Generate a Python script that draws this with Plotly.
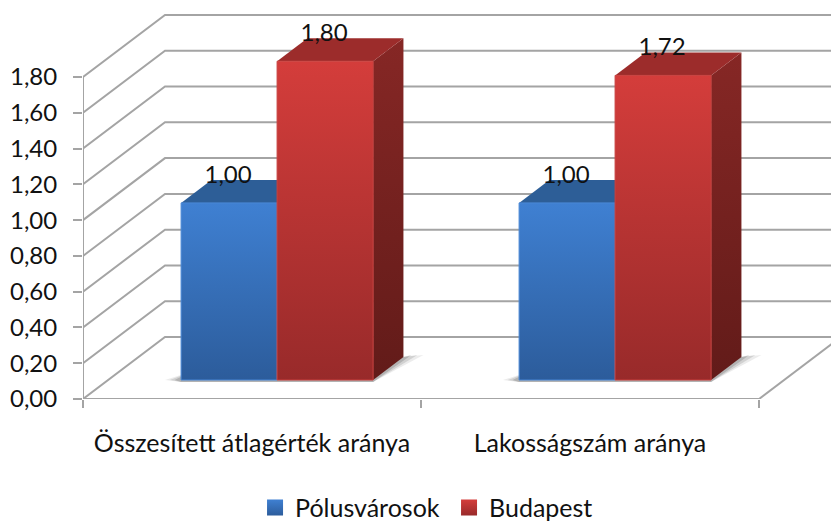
import plotly.graph_objects as go

categories = ["Összesített átlagérték aránya", "Lakosságszám aránya"]
series_names = ["Pólusvárosok", "Budapest"]
polus_values = [1.00, 1.00]
budapest_values = [1.80, 1.72]
value_labels = [["1,00", "1,00"], ["1,80", "1,72"]]
tick_values = [0, 0.2, 0.4, 0.6, 0.8, 1.0, 1.2, 1.4, 1.6, 1.8]
tick_labels = ["0,00", "0,20", "0,40", "0,60", "0,80", "1,00", "1,20", "1,40", "1,60", "1,80"]

# pseudo-3D projection, category units / value units
PX_X, PX_Y = 338.0, 178.9
DEPTH_X, DEPTH_Y = 82 / PX_X, 62 / PX_Y
FRONT, BACK = 0.306, 0.676
BAR_W = 96 / PX_X
HEIGHT_K = 0.99
FONT = "Lato, Carlito, sans-serif"
FS = 24
FS_CAT = 25
GRID = "#a4a4a4"
XMAX = (831 - 83) / PX_X


def proj(x, v, d):
    return x + d * DEPTH_X, v + d * DEPTH_Y


def poly(pts, name, fill=None, grad=None, line=None, gtype="vertical"):
    xs = [p[0] for p in pts] + [pts[0][0]]
    ys = [p[1] for p in pts] + [pts[0][1]]
    kw = dict(x=xs, y=ys, mode="lines", fill="toself", showlegend=False, hoverinfo="skip",
              name=name, cliponaxis=False,
              line=dict(width=1 if line else 0, color=line or "rgba(0,0,0,0)"))
    if grad:
        # colorscale runs from the bottom of the shape to its top
        kw["fillgradient"] = dict(type=gtype, colorscale=[[0, grad[1]], [1, grad[0]]])
    else:
        kw["fillcolor"] = fill
    return go.Scatter(**kw)


def seg(pts, width=2, color=GRID):
    return go.Scatter(x=[p[0] for p in pts], y=[p[1] for p in pts], mode="lines", showlegend=False,
                      hoverinfo="skip", cliponaxis=False, line=dict(color=color, width=width))


fig = go.Figure()

# walls and floor
for v in tick_values:
    fig.add_trace(seg([proj(0, v, 0), proj(0, v, 1), (XMAX, v + DEPTH_Y)]))
fig.add_trace(seg([proj(0, 1.8, 0), proj(0, 0, 0), proj(2, 0, 0)]))
fig.add_trace(seg([proj(2, 0, 0), proj(2, 0, 1)]))

palettes = [
    dict(front=("#3f80d2", "#2c5c9b"), top="#2d5e97", side=("#2b5a94", "#234a7a"), edge="#4a88d6"),
    dict(front=("#d43d3b", "#982a2a"), top="#9c2c2b", side=("#862725", "#621b19"), edge="#c9403e"),
]

# soft shadows on the floor
for i in range(len(categories)):
    cx = i + 0.5
    xl = cx - BAR_W
    xr = cx + BAR_W
    for grow, alpha in [(1.0, 0.10), (0.7, 0.16), (0.4, 0.22)]:
        a = proj(xl - grow * 16 / PX_X, 0, FRONT)
        b = proj(xl, 0, FRONT + 0.14)
        c = proj(xr, 0, BACK)
        d = (proj(xr, 0, BACK)[0] + grow * 20 / PX_X, proj(xr, 0, BACK)[1] + 2 / PX_Y)
        e = proj(xr, -2 / PX_Y, FRONT)
        f = proj(xl, -2 / PX_Y, FRONT)
        fig.add_trace(poly([a, b, c, d, e, f], "shadow", fill=f"rgba(70,70,70,{alpha})"))

# bars
for s, values in enumerate([polus_values, budapest_values]):
    pal = palettes[s]
    for i, val in enumerate(values):
        cx = i + 0.5
        x0 = cx - BAR_W + s * BAR_W
        x1 = x0 + BAR_W
        h = val * HEIGHT_K
        fig.add_trace(poly([proj(x1, 0, FRONT), proj(x1, 0, BACK), proj(x1, h, BACK), proj(x1, h, FRONT)],
                           series_names[s] + " side", grad=pal["side"]))
        fig.add_trace(poly([proj(x0, h, FRONT), proj(x1, h, FRONT), proj(x1, h, BACK), proj(x0, h, BACK)],
                           series_names[s] + " top", fill=pal["top"]))
        fig.add_trace(poly([proj(x0, 0, FRONT), proj(x1, 0, FRONT), proj(x1, h, FRONT), proj(x0, h, FRONT)],
                           series_names[s], grad=pal["front"], line=pal["edge"]))

# value labels
for s, values in enumerate([polus_values, budapest_values]):
    for i, val in enumerate(values):
        cx = i + 0.5
        x = cx - BAR_W + s * BAR_W + BAR_W / 2 - 1 / PX_X
        y = val * HEIGHT_K + 26 / PX_Y
        lx, ly = proj(x, y, FRONT)
        fig.add_trace(go.Scatter(x=[lx], y=[ly], mode="text", text=[value_labels[s][i]], showlegend=False,
                                 hoverinfo="skip", cliponaxis=False, textposition="middle center",
                                 textfont=dict(family=FONT, size=FS, color="#111111")))

# legend entries
for s, name in enumerate(series_names):
    fig.add_trace(go.Scatter(x=[None], y=[None], mode="markers", name=name,
                             marker=dict(symbol="square", size=17, color=palettes[s]["front"][0],
                                         gradient=dict(type="vertical", color=palettes[s]["front"][1]),
                                         line=dict(width=0))))

fig.update_layout(
    width=831, height=525,
    margin=dict(l=83, r=0, t=0, b=126, autoexpand=False),
    paper_bgcolor="white", plot_bgcolor="white",
    font=dict(family=FONT, size=FS, color="#111111"),
    showlegend=True,
    legend=dict(orientation="h", x=0.23, xref="paper", xanchor="left", y=-0.215, yanchor="top",
                entrywidth=149, entrywidthmode="pixels",
                font=dict(family=FONT, size=FS_CAT), itemclick=False, itemdoubleclick=False,
                bgcolor="rgba(0,0,0,0)"),
    xaxis=dict(range=[0, XMAX], showgrid=False, zeroline=False, showline=False,
               tickmode="array", tickvals=[0.5, 1.5], ticktext=categories, ticks="",
               ticklabelstandoff=27, tickfont=dict(family=FONT, size=FS_CAT),
               minor=dict(tickmode="array", tickvals=[0, 1, 2], ticks="outside", ticklen=8,
                          tickwidth=2, tickcolor=GRID, showgrid=False)),
    yaxis=dict(range=[0, 399 / PX_Y], showgrid=False, zeroline=False, showline=False,
               tickmode="array", tickvals=tick_values, ticktext=tick_labels, ticks="outside",
               ticklen=9, tickwidth=2, tickcolor=GRID, ticklabelstandoff=11,
               tickfont=dict(family=FONT, size=FS)),
)

fig.write_html("out.html", config={"displayModeBar": False},
               post_script="document.body.style.margin='0';")
